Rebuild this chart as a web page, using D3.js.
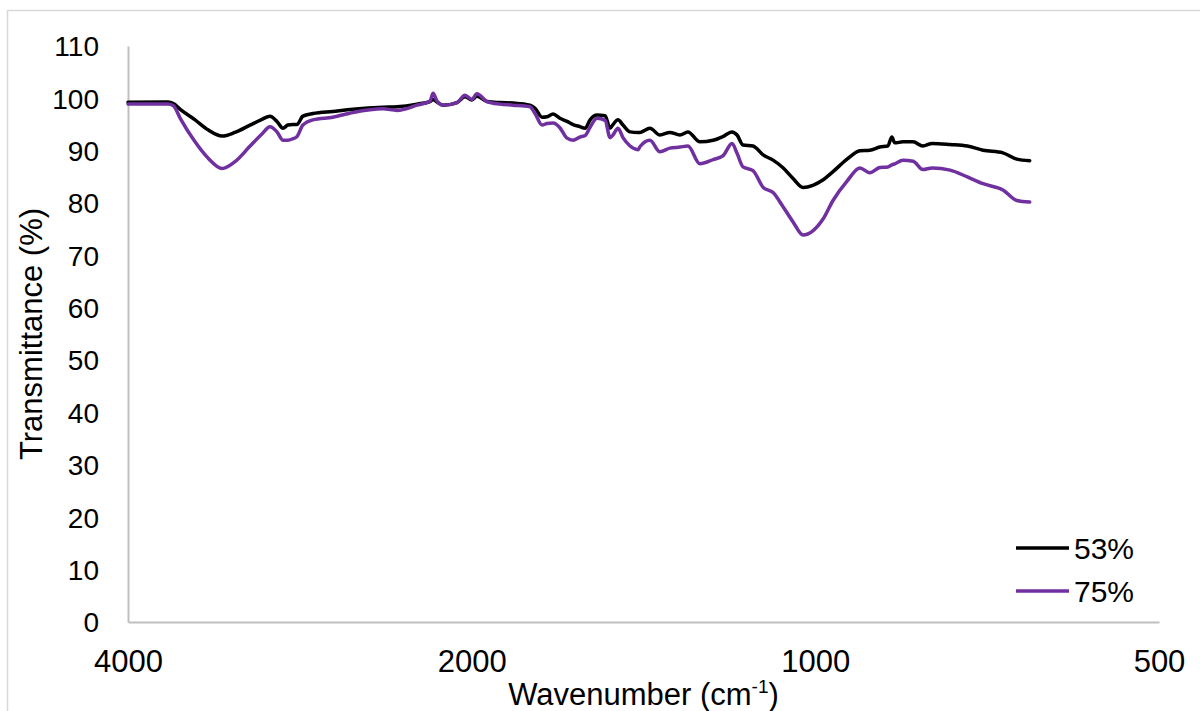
<!DOCTYPE html>
<html>
<head>
<meta charset="utf-8">
<script src="https://cdn.jsdelivr.net/npm/d3@7"></script>
<style>
  body { margin: 0; background: #fff; }
  text { font-family: "Liberation Sans", Arial, sans-serif; fill: #000; }
</style>
</head>
<body>
<svg id="chart"></svg>
<script>
// Wavenumbers (cm-1), high to low
const wavenumbers = [4000, 3690, 3650, 3600, 3494, 3404, 3309, 3224, 3127, 3053, 3004, 2962, 2926, 2897, 2868, 2845,
  2811, 2754, 2646, 2541, 2392, 2325, 2233, 2175, 2162, 2145, 2119, 2060, 2027, 1999, 1979, 1939, 1889, 1840,
  1778, 1760, 1735, 1718, 1697, 1674, 1650, 1630, 1608, 1591, 1575, 1553, 1528, 1513, 1504, 1489, 1474, 1453,
  1430, 1424, 1396, 1368, 1341, 1314, 1293, 1262, 1229, 1205, 1183, 1171, 1157, 1134, 1111, 1089, 1068, 1046,
  1025, 1005, 985, 965, 938, 914, 896, 878, 864, 857, 852, 838, 821, 805, 790, 762, 736, 713, 685, 666, 649];

// Transmittance (%) for the 53% sample (black)
const t53 = [99.25, 99.3, 99.0, 97.9, 95.9, 94.0, 92.8, 93.5, 94.9, 96.0, 96.6, 95.6, 94.3, 94.9, 95.0, 95.0,
  96.6, 97.1, 97.5, 97.9, 98.3, 98.4, 98.9, 99.4, 99.8, 99.3, 98.7, 99.2, 100.3, 99.7, 100.4, 99.4, 99.2, 99.1,
  98.7, 98.1, 96.4, 96.5, 97.0, 96.2, 95.6, 95.0, 94.6, 94.3, 95.9, 96.8, 96.7, 94.3, 95.0, 95.9, 94.9, 93.6,
  93.5, 93.5, 94.3, 93.0, 93.5, 93.0, 93.6, 91.7, 92.0, 92.7, 93.6, 93.0, 91.1, 90.9, 89.2, 88.2, 86.8, 84.7,
  83.0, 83.4, 84.4, 86.0, 88.4, 90.0, 90.1, 90.7, 90.9, 92.6, 91.5, 91.7, 91.7, 90.9, 91.4, 91.2, 90.9, 90.1,
  89.6, 88.4, 88.1];

// Transmittance (%) for the 75% sample (purple)
const t75 = [98.9, 98.9, 98.6, 96.2, 91.7, 88.6, 86.6, 87.9, 90.9, 93.2, 94.6, 93.6, 92.0, 92.0, 92.3, 92.7,
  94.9, 95.9, 96.4, 97.3, 98.0, 97.7, 98.7, 99.5, 101.0, 99.5, 98.7, 99.2, 100.6, 99.8, 100.9, 99.4, 98.9, 98.7,
  98.4, 97.1, 94.9, 95.2, 95.3, 94.4, 92.4, 92.0, 92.6, 92.9, 94.5, 96.2, 95.8, 92.5, 93.0, 94.3, 92.5, 90.9,
  90.2, 90.8, 92.0, 89.8, 90.5, 90.7, 90.9, 87.5, 88.3, 89.0, 91.4, 89.5, 86.9, 86.2, 83.0, 82.0, 79.4, 76.4,
  73.9, 74.7, 76.9, 80.5, 84.2, 86.7, 85.8, 86.8, 86.9, 87.3, 87.5, 88.2, 88.0, 86.4, 86.7, 86.3, 85.0, 83.7,
  82.5, 80.5, 80.2];

const seriesNames = ['53%', '75%'];
const seriesColors = ['#000000', '#7030a0'];
const xTicks = [4000, 2000, 1000, 500];
const yTicks = d3.range(0, 111, 10);

const width = 1200, height = 711;
const margin = { top: 46, left: 128, right: 41, bottom: 89 };
const innerW = width - margin.left - margin.right;
const innerH = height - margin.top - margin.bottom;

const svg = d3.select('#chart')
  .attr('width', width)
  .attr('height', height);

// Light grey chart border (runs off the right and bottom edge in the original)
svg.append('rect')
  .attr('x', 7.5).attr('y', 10.5)
  .attr('width', 1210).attr('height', 720)
  .attr('fill', 'none')
  .attr('stroke', '#d9d9d9')
  .attr('stroke-width', 1.5);

const chart = svg.append('g')
  .attr('transform', `translate(${margin.left},${margin.top})`);

// Log axis, reversed (base 2 ticks)
const xScale = d3.scaleLog()
  .domain([4000, 500])
  .range([0, innerW]);

const yScale = d3.scaleLinear()
  .domain([0, 110])
  .range([innerH, 0]);

// Axes: lines only, labels added separately
const xAxis = d3.axisBottom(xScale).tickValues(xTicks).tickSize(0).tickFormat(d3.format('d'));
const yAxis = d3.axisLeft(yScale).tickValues(yTicks).tickSize(0);

const xAxisG = chart.append('g')
  .attr('transform', `translate(0,${innerH})`)
  .call(xAxis);
xAxisG.select('.domain').attr('stroke', '#bfbfbf').attr('stroke-width', 2);
xAxisG.selectAll('text')
  .attr('font-size', '31px')
  .attr('dy', null)
  .attr('y', 50);

const yAxisG = chart.append('g').call(yAxis);
yAxisG.select('.domain').attr('stroke', '#bfbfbf').attr('stroke-width', 2);
yAxisG.selectAll('text')
  .attr('font-size', '28px')
  .attr('x', -29)
  .attr('dy', '0.35em');
svg.selectAll('.tick text').attr('font-family', '"Liberation Sans", Arial, sans-serif').attr('fill', '#000');

// Series lines
const line = d3.line()
  .x(d => xScale(d[0]))
  .y(d => yScale(d[1]))
  .curve(d3.curveMonotoneX);

const series = [t53, t75].map((vals, i) => ({
  name: seriesNames[i],
  color: seriesColors[i],
  points: wavenumbers.map((w, j) => [w, vals[j]])
}));

chart.selectAll('.series')
  .data(series)
  .join('path')
    .attr('class', 'series')
    .attr('d', d => line(d.points))
    .attr('fill', 'none')
    .attr('stroke', d => d.color)
    .attr('stroke-width', 3.5)
    .attr('stroke-linejoin', 'round')
    .attr('stroke-linecap', 'round');

// Axis titles
svg.append('text')
  .attr('transform', `translate(42,${margin.top + innerH / 2}) rotate(-90)`)
  .attr('text-anchor', 'middle')
  .attr('font-size', '31px')
  .text('Transmittance (%)');

const xTitle = svg.append('text')
  .attr('x', margin.left + innerW / 2)
  .attr('y', 705)
  .attr('text-anchor', 'middle')
  .attr('font-size', '31px');
xTitle.append('tspan').text('Wavenumber (cm');
xTitle.append('tspan').attr('font-size', '19px').attr('dy', -12).text('-1');
xTitle.append('tspan').attr('dy', 12).text(')');

// Legend
const legend = svg.append('g')
  .attr('transform', 'translate(1016,548)');

const legendItems = legend.selectAll('g')
  .data(series)
  .join('g')
    .attr('transform', (d, i) => `translate(0,${i * 43})`);

legendItems.append('line')
  .attr('x1', 0).attr('x2', 53)
  .attr('stroke', d => d.color)
  .attr('stroke-width', 3.5);

legendItems.append('text')
  .attr('x', 58)
  .attr('y', 11)
  .attr('font-size', '30px')
  .text(d => d.name);
</script>
</body>
</html>
